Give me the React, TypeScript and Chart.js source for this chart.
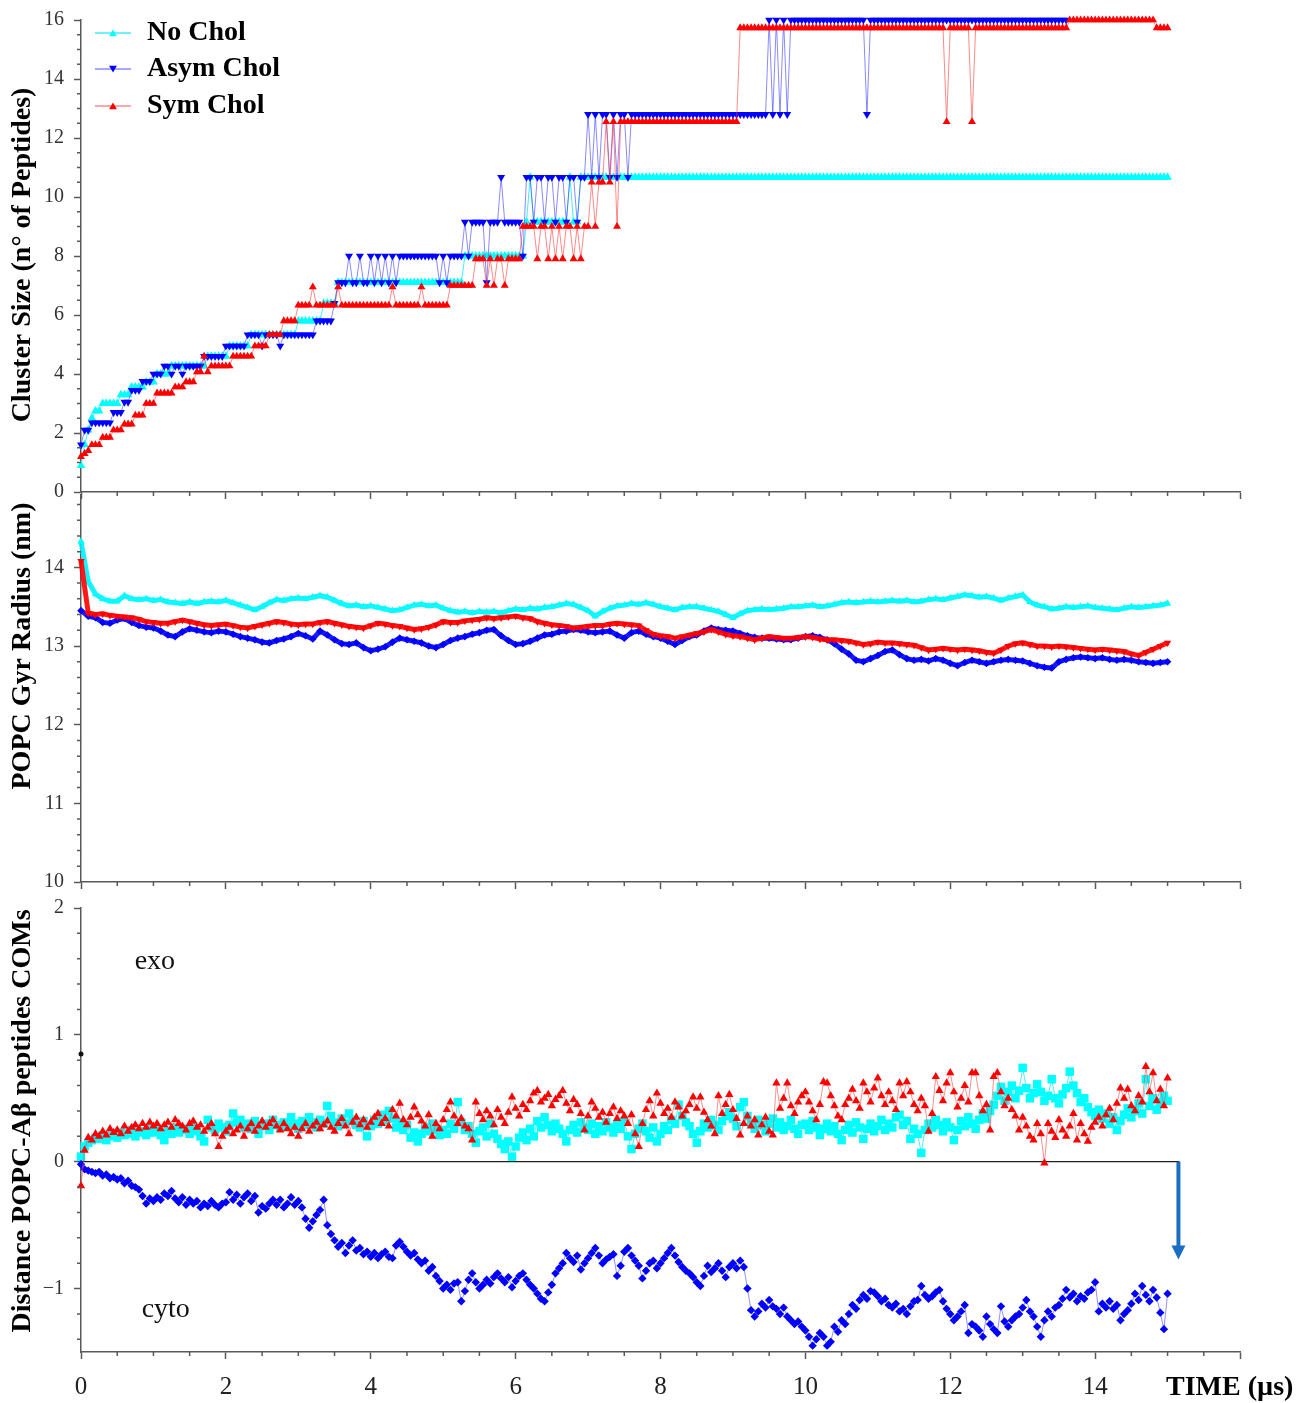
import React, { useEffect, useRef } from 'react';
import { Chart, registerables } from 'chart.js';

Chart.register(...registerables);

// ---------------- data ----------------
const SERIES_LABELS = ['No Chol', 'Asym Chol', 'Sym Chol'];
const X_TICK_LABELS = [0, 2, 4, 6, 8, 10, 12, 14];

// Panel 1: cluster size, sampled every 0.05 µs
const CLUSTER_DT = 0.05;
const CLUSTER_NOCHOL = [
  0.9,1.6,2.1,2.5,2.75,2.75,3,3,3,3,3,3.3,3.3,3.3,3.56,3.56,3.56,3.56,3.73,3.73,
  3.73,4,4,4,4,4.27,4.27,4.27,4.27,4.27,4.27,4.27,4.27,4.27,4.27,4.6,4.6,4.6,4.6,4.6,
  4.6,4.95,4.95,4.95,4.95,4.95,4.95,5.33,5.33,5.33,5.33,5.33,5.33,5.33,5.33,5.33,5.33,5.33,5.33,5.33,
  5.8,5.8,5.8,5.8,5.8,5.8,5.8,6.4,6.4,6.4,6.4,7.1,7.1,7.1,7.1,7.1,7.1,7.1,7.1,7.1,
  7.1,7.1,7.1,7.1,7.1,7.1,7.1,7.1,7.1,7.1,7.1,7.1,7.1,7.1,7.1,7.1,7.1,7.1,7.1,7.1,
  7.1,7.1,7.1,7.1,7.1,7.1,8,8,8,8,8,8,8,8,8,8,8,8,8,8,
  8,8,8,9.15,10.67,9.15,9.15,9.15,9.15,9.15,9.15,9.15,9.15,9.15,9.15,10.67,9.15,9.15,10.67,10.67,
  10.67,10.67,10.67,10.67,10.67,10.67,10.67,10.67,10.67,10.67,10.67,10.67,10.67,10.67,10.67,10.67,10.67,10.67,10.67,10.67,
  10.67,10.67,10.67,10.67,10.67,10.67,10.67,10.67,10.67,10.67,10.67,10.67,10.67,10.67,10.67,10.67,10.67,10.67,10.67,10.67,
  10.67,10.67,10.67,10.67,10.67,10.67,10.67,10.67,10.67,10.67,10.67,10.67,10.67,10.67,10.67,10.67,10.67,10.67,10.67,10.67,
  10.67,10.67,10.67,10.67,10.67,10.67,10.67,10.67,10.67,10.67,10.67,10.67,10.67,10.67,10.67,10.67,10.67,10.67,10.67,10.67,
  10.67,10.67,10.67,10.67,10.67,10.67,10.67,10.67,10.67,10.67,10.67,10.67,10.67,10.67,10.67,10.67,10.67,10.67,10.67,10.67,
  10.67,10.67,10.67,10.67,10.67,10.67,10.67,10.67,10.67,10.67,10.67,10.67,10.67,10.67,10.67,10.67,10.67,10.67,10.67,10.67,
  10.67,10.67,10.67,10.67,10.67,10.67,10.67,10.67,10.67,10.67,10.67,10.67,10.67,10.67,10.67,10.67,10.67,10.67,10.67,10.67,
  10.67,10.67,10.67,10.67,10.67,10.67,10.67,10.67,10.67,10.67,10.67,10.67,10.67,10.67,10.67,10.67,10.67,10.67,10.67,10.67,
  10.67,
];
const CLUSTER_ASYM = [
  1.6,2.1,2.1,2.35,2.35,2.35,2.35,2.35,2.35,2.7,2.7,2.7,3.05,3.05,3.45,3.45,3.45,3.75,3.75,3.75,
  4,4,4,4.27,4.27,4,4.27,4.27,4,4.27,4.27,4.27,4.27,4.27,4.6,4.6,4.6,4.6,4.6,4.6,
  4.95,4.95,4.95,4.95,4.95,4.95,5.33,5.33,5.33,5.33,4.95,5.33,5.33,5.33,5.33,4.95,5.33,5.33,5.33,5.33,
  5.33,5.33,5.33,5.33,5.33,5.8,5.8,5.8,5.8,5.8,6.4,7.1,7.1,7.1,8,7.1,7.1,8,7.1,7.1,
  8,7.1,8,7.1,8,7.1,8,7.1,8,8,8,8,8,8,8,8,8,8,8,7.1,
  8,7.1,8,8,8,8,9.15,8,9.15,9.15,9.15,9.15,7.1,9.15,9.15,9.15,10.67,9.15,9.15,9.15,
  9.15,9.15,8,10.67,10.67,9.15,10.67,10.67,9.15,10.67,10.67,9.15,10.67,10.67,9.15,10.67,10.67,9.15,10.67,10.67,
  12.8,10.67,12.8,10.67,12.8,12.8,10.67,12.8,10.67,12.8,12.8,10.67,12.8,12.8,12.8,12.8,12.8,12.8,12.8,12.8,
  12.8,12.8,12.8,12.8,12.8,12.8,12.8,12.8,12.8,12.8,12.8,12.8,12.8,12.8,12.8,12.8,12.8,12.8,12.8,12.8,
  12.8,12.8,12.8,12.8,12.8,12.8,12.8,12.8,12.8,12.8,16,12.8,16,12.8,16,12.8,16,16,16,16,
  16,16,16,16,16,16,16,16,16,16,16,16,16,16,16,16,16,12.8,16,16,
  16,16,16,16,16,16,16,16,16,16,16,16,16,16,16,16,16,16,16,16,
  16,16,16,16,16,16,16,16,16,16,16,16,16,16,16,16,16,16,16,16,
  16,16,16,16,16,16,16,16,16,16,16,16,16,
];
const CLUSTER_SYM = [
  1.2,1.3,1.4,1.6,1.6,1.6,1.85,1.85,1.85,2.1,2.1,2.1,2.3,2.3,2.3,2.6,2.6,2.6,3,3,
  3,3.35,3.35,3.35,3.35,3.35,3.56,3.56,3.56,3.73,3.73,3.73,4.07,4.07,4.6,4.07,4.27,4.27,4.27,4.27,
  4.27,4.27,4.6,4.6,4.6,4.6,4.6,4.6,4.95,4.95,4.95,4.95,5.33,5.33,5.33,5.33,5.8,5.8,5.8,5.8,
  6.33,6.33,6.33,6.33,6.95,6.33,6.33,6.33,6.33,6.33,6.33,6.95,6.33,6.33,6.33,6.33,6.33,6.33,6.33,6.33,
  6.33,6.33,6.33,6.33,6.33,6.33,6.95,6.33,6.33,6.33,6.33,6.33,6.33,6.33,6.95,6.33,6.33,6.33,6.33,6.33,
  6.33,6.33,7,7,7,7,7,7,7,7.9,7.9,7.9,7,7.9,7,7.9,7.9,7,7.9,7.9,
  7.9,7.9,9,9,9,9,7.9,9,9,7.9,9,7.9,9,7.9,9,9,7.9,9,7.9,9,
  9,10.5,9,10.5,10.5,12.55,10.5,12.55,9,12.55,12.55,12.55,12.55,12.55,12.55,12.55,12.55,12.55,12.55,12.55,
  12.55,12.55,12.55,12.55,12.55,12.55,12.55,12.55,12.55,12.55,12.55,12.55,12.55,12.55,12.55,12.55,12.55,12.55,12.55,12.55,
  12.55,12.55,15.73,15.73,15.73,15.73,15.73,15.73,15.73,15.73,15.73,15.73,15.73,15.73,15.73,15.73,15.73,15.73,15.73,15.73,
  15.73,15.73,15.73,15.73,15.73,15.73,15.73,15.73,15.73,15.73,15.73,15.73,15.73,15.73,15.73,15.73,15.73,15.73,15.73,15.73,
  15.73,15.73,15.73,15.73,15.73,15.73,15.73,15.73,15.73,15.73,15.73,15.73,15.73,15.73,15.73,15.73,15.73,15.73,15.73,12.55,
  15.73,15.73,15.73,15.73,15.73,15.73,12.55,15.73,15.73,15.73,15.73,15.73,15.73,15.73,15.73,15.73,15.73,15.73,15.73,15.73,
  15.73,15.73,15.73,15.73,15.73,15.73,15.73,15.73,15.73,15.73,15.73,15.73,15.73,16,16,16,16,16,16,16,
  16,16,16,16,16,16,16,16,16,16,16,16,16,16,16,16,16,15.73,15.73,15.73,
  15.73,
];

// Panel 2: POPC gyration radius (nm), sampled every 0.1 µs
const GYR_DT = 0.1;
const GYR_NOCHOL = [
  14.33,13.82,13.66,13.6,13.57,13.57,13.64,13.6,13.59,13.6,
  13.58,13.59,13.56,13.55,13.54,13.56,13.54,13.56,13.57,13.56,
  13.58,13.55,13.52,13.49,13.46,13.5,13.55,13.59,13.58,13.6,
  13.61,13.6,13.62,13.64,13.62,13.58,13.54,13.51,13.52,13.5,
  13.51,13.49,13.47,13.45,13.46,13.49,13.52,13.53,13.51,13.52,
  13.48,13.45,13.43,13.44,13.42,13.44,13.43,13.44,13.42,13.45,
  13.47,13.46,13.48,13.47,13.49,13.5,13.52,13.54,13.53,13.49,
  13.45,13.38,13.44,13.48,13.51,13.52,13.54,13.53,13.55,13.53,
  13.5,13.48,13.46,13.49,13.5,13.5,13.48,13.46,13.44,13.4,
  13.36,13.41,13.45,13.46,13.47,13.46,13.47,13.48,13.5,13.5,
  13.51,13.52,13.5,13.51,13.53,13.55,13.56,13.55,13.56,13.57,
  13.56,13.57,13.58,13.57,13.58,13.56,13.57,13.59,13.6,13.59,
  13.61,13.63,13.65,13.64,13.62,13.63,13.61,13.58,13.61,13.63,
  13.65,13.56,13.52,13.5,13.47,13.48,13.5,13.49,13.5,13.51,
  13.49,13.48,13.47,13.46,13.48,13.5,13.49,13.5,13.51,13.52,
  13.54,
];
const GYR_ASYM = [
  13.45,13.38,13.36,13.3,13.29,13.33,13.35,13.3,13.26,13.24,
  13.23,13.19,13.14,13.12,13.18,13.22,13.2,13.18,13.17,13.19,
  13.18,13.15,13.12,13.1,13.08,13.05,13.04,13.07,13.09,13.12,
  13.16,13.13,13.09,13.19,13.14,13.08,13.03,13.02,13.04,12.98,
  12.94,12.96,12.99,13.05,13.1,13.08,13.06,13.04,13,12.98,
  13.02,13.07,13.1,13.12,13.15,13.17,13.2,13.21,13.13,13.07,
  13.02,13.03,13.06,13.1,13.14,13.15,13.18,13.19,13.21,13.2,
  13.18,13.17,13.18,13.19,13.14,13.1,13.17,13.19,13.15,13.12,
  13.1,13.06,13.02,13.07,13.12,13.14,13.19,13.23,13.21,13.2,
  13.19,13.16,13.13,13.11,13.1,13.1,13.09,13.08,13.08,13.1,
  13.12,13.13,13.11,13.08,13.03,12.96,12.9,12.82,12.8,12.84,
  12.88,12.93,12.95,12.89,12.84,12.82,12.83,12.81,12.84,12.82,
  12.78,12.75,12.79,12.82,12.8,12.78,12.8,12.82,12.83,12.82,
  12.81,12.78,12.75,12.73,12.72,12.8,12.83,12.85,12.86,12.85,
  12.84,12.85,12.83,12.82,12.83,12.82,12.8,12.79,12.78,12.79,
  12.8,
];
const GYR_SYM = [
  14.08,13.42,13.4,13.41,13.39,13.38,13.37,13.36,13.34,13.31,
  13.3,13.29,13.29,13.31,13.33,13.31,13.29,13.27,13.26,13.27,
  13.28,13.26,13.24,13.23,13.25,13.27,13.29,13.31,13.3,13.28,
  13.27,13.28,13.28,13.3,13.31,13.29,13.27,13.25,13.24,13.23,
  13.26,13.29,13.28,13.26,13.25,13.23,13.21,13.22,13.24,13.27,
  13.31,13.3,13.3,13.32,13.33,13.34,13.36,13.35,13.36,13.37,
  13.38,13.36,13.35,13.31,13.29,13.27,13.26,13.25,13.23,13.24,
  13.25,13.26,13.26,13.28,13.29,13.28,13.27,13.26,13.2,13.15,
  13.13,13.12,13.1,13.12,13.14,13.16,13.18,13.21,13.18,13.15,
  13.13,13.12,13.1,13.08,13.1,13.12,13.11,13.1,13.1,13.11,
  13.12,13.11,13.09,13.08,13.08,13.07,13.06,13.04,13.02,13.03,
  13.05,13.04,13.04,13.03,13.02,13.01,12.98,12.95,12.96,12.97,
  12.96,12.95,12.96,12.95,12.94,12.92,12.91,12.95,13,13.03,
  13.04,13.02,13,13,12.99,13,12.99,12.98,12.97,12.96,
  12.95,12.96,12.95,12.94,12.93,12.9,12.88,12.92,12.96,13,
  13.04,
];

// Panel 3: distance POPC – Aβ peptide COMs, sampled every 0.05 µs
const DIST_DT = 0.05;
const DIST_NOCHOL = [
  0.04,0.12,0.15,0.17,0.19,0.18,0.21,0.17,0.2,0.22,0.19,0.23,0.21,0.22,0.25,0.2,0.23,0.24,0.21,0.26,
  0.23,0.25,0.21,0.17,0.24,0.22,0.27,0.23,0.26,0.25,0.22,0.28,0.24,0.2,0.16,0.33,0.27,0.25,0.3,0.27,
  0.24,0.29,0.38,0.31,0.33,0.27,0.3,0.26,0.32,0.22,0.28,0.3,0.25,0.33,0.29,0.27,0.31,0.28,0.35,0.3,
  0.26,0.32,0.29,0.35,0.31,0.27,0.33,0.3,0.44,0.36,0.31,0.28,0.34,0.3,0.38,0.33,0.29,0.27,0.32,0.2,
  0.28,0.33,0.3,0.37,0.32,0.4,0.34,0.27,0.31,0.25,0.29,0.19,0.23,0.16,0.22,0.27,0.24,0.3,0.25,0.21,
  0.25,0.22,0.3,0.26,0.47,0.31,0.25,0.28,0.22,0.15,0.24,0.27,0.2,0.3,0.22,0.18,0.14,0.1,0.16,0.04,
  0.12,0.19,0.23,0.17,0.26,0.2,0.32,0.27,0.35,0.29,0.24,0.3,0.26,0.22,0.16,0.25,0.29,0.23,0.31,0.27,
  0.25,0.3,0.22,0.28,0.24,0.31,0.27,0.23,0.29,0.26,0.32,0.2,0.1,0.22,0.26,0.3,0.24,0.19,0.27,0.16,
  0.22,0.28,0.25,0.33,0.3,0.45,0.36,0.31,0.28,0.22,0.15,0.24,0.3,0.27,0.33,0.29,0.25,0.32,0.36,0.39,
  0.34,0.28,0.43,0.47,0.36,0.3,0.26,0.33,0.29,0.24,0.3,0.34,0.27,0.31,0.25,0.28,0.33,0.26,0.22,0.29,
  0.3,0.25,0.32,0.27,0.21,0.26,0.3,0.24,0.28,0.22,0.17,0.25,0.29,0.23,0.31,0.27,0.18,0.26,0.3,0.24,
  0.28,0.33,0.25,0.3,0.27,0.35,0.37,0.29,0.32,0.18,0.26,0.22,0.07,0.25,0.3,0.27,0.33,0.29,0.24,0.31,
  0.27,0.17,0.25,0.32,0.28,0.35,0.3,0.26,0.33,0.38,0.34,0.4,0.45,0.52,0.59,0.48,0.55,0.6,0.5,0.56,
  0.74,0.58,0.5,0.54,0.61,0.55,0.48,0.52,0.65,0.5,0.46,0.53,0.58,0.71,0.6,0.54,0.47,0.5,0.43,0.39,
  0.36,0.41,0.34,0.38,0.3,0.35,0.25,0.32,0.37,0.42,0.35,0.4,0.46,0.38,0.65,0.44,0.5,0.41,0.47,0.52,
  0.48,
];
const DIST_ASYM = [
  -0.02,-0.06,-0.07,-0.08,-0.09,-0.08,-0.11,-0.1,-0.13,-0.12,-0.14,-0.13,-0.17,-0.15,-0.19,-0.2,-0.22,-0.27,-0.33,-0.29,
  -0.31,-0.28,-0.3,-0.25,-0.27,-0.23,-0.29,-0.32,-0.28,-0.34,-0.3,-0.33,-0.31,-0.36,-0.33,-0.35,-0.31,-0.34,-0.36,-0.33,
  -0.32,-0.24,-0.3,-0.26,-0.33,-0.28,-0.25,-0.31,-0.27,-0.4,-0.35,-0.37,-0.33,-0.3,-0.34,-0.3,-0.36,-0.33,-0.28,-0.34,
  -0.31,-0.36,-0.45,-0.52,-0.47,-0.42,-0.38,-0.3,-0.5,-0.57,-0.62,-0.67,-0.64,-0.72,-0.66,-0.62,-0.7,-0.68,-0.73,-0.71,
  -0.75,-0.72,-0.76,-0.73,-0.71,-0.75,-0.76,-0.66,-0.63,-0.67,-0.71,-0.74,-0.72,-0.77,-0.8,-0.78,-0.86,-0.83,-0.9,-0.94,
  -1,-0.97,-1.01,-0.96,-0.95,-1.1,-1.02,-0.93,-0.88,-0.95,-1,-0.97,-0.93,-0.96,-0.91,-0.88,-0.92,-0.95,-0.91,-0.99,
  -0.94,-0.9,-0.88,-0.93,-0.97,-1,-1.04,-1.08,-1.1,-1.03,-0.97,-0.88,-0.84,-0.8,-0.72,-0.76,-0.79,-0.74,-0.85,-0.8,
  -0.76,-0.72,-0.68,-0.74,-0.8,-0.77,-0.75,-0.73,-0.9,-0.82,-0.71,-0.68,-0.74,-0.78,-0.82,-0.92,-0.86,-0.8,-0.78,-0.84,
  -0.8,-0.76,-0.72,-0.68,-0.74,-0.79,-0.83,-0.86,-0.88,-0.91,-0.95,-0.98,-0.9,-0.82,-0.87,-0.84,-0.8,-0.86,-0.91,-0.83,
  -0.8,-0.84,-0.78,-0.83,-1,-1.17,-1.22,-1.18,-1.12,-1.15,-1.09,-1.14,-1.16,-1.2,-1.15,-1.22,-1.25,-1.28,-1.26,-1.3,
  -1.33,-1.38,-1.45,-1.4,-1.35,-1.38,-1.45,-1.42,-1.3,-1.34,-1.25,-1.28,-1.2,-1.13,-1.16,-1.09,-1.05,-1.08,-1.02,-1.03,
  -1.06,-1.1,-1.08,-1.13,-1.15,-1.12,-1.18,-1.16,-1.2,-1.14,-1.1,-1.09,-0.98,-1.05,-1.08,-1.06,-1.03,-1.01,-1.1,-1.16,
  -1.2,-1.25,-1.22,-1.18,-1.13,-1.35,-1.28,-1.3,-1.33,-1.38,-1.22,-1.28,-1.32,-1.35,-1.14,-1.26,-1.3,-1.25,-1.22,-1.2,
  -1.15,-1.09,-1.18,-1.22,-1.3,-1.38,-1.25,-1.18,-1.22,-1.15,-1.13,-1.08,-1.01,-1.07,-1.04,-1.1,-1.06,-1.08,-1.03,-1.01,
  -0.95,-1.18,-1.12,-1.15,-1.1,-1.16,-1.13,-1.25,-1.2,-1.17,-1.12,-1.04,-1.09,-0.98,-1.05,-1.1,-1.01,-1.07,-1.19,-1.32,
  -1.04,
];
const DIST_SYM = [
  -0.19,0.09,0.19,0.17,0.22,0.2,0.24,0.21,0.26,0.23,0.25,0.22,0.28,0.24,0.27,0.29,0.26,0.3,0.27,0.31,
  0.28,0.3,0.26,0.29,0.31,0.27,0.33,0.3,0.28,0.25,0.3,0.32,0.27,0.29,0.24,0.27,0.3,0.22,0.12,0.2,
  0.24,0.27,0.22,0.25,0.28,0.2,0.26,0.3,0.24,0.28,0.32,0.27,0.3,0.33,0.28,0.25,0.3,0.26,0.22,0.27,
  0.2,0.26,0.3,0.24,0.28,0.31,0.26,0.29,0.32,0.27,0.24,0.3,0.34,0.28,0.22,0.31,0.35,0.29,0.33,0.27,
  0.31,0.35,0.38,0.3,0.34,0.28,0.41,0.36,0.46,0.33,0.29,0.35,0.43,0.37,0.32,0.28,0.37,0.2,0.3,0.26,
  0.33,0.41,0.47,0.36,0.3,0.34,0.28,0.26,0.17,0.47,0.38,0.33,0.4,0.36,0.29,0.41,0.35,0.3,0.39,0.51,
  0.42,0.36,0.45,0.41,0.48,0.54,0.56,0.47,0.5,0.53,0.44,0.49,0.52,0.56,0.46,0.4,0.49,0.45,0.38,0.25,
  0.36,0.47,0.42,0.35,0.39,0.31,0.38,0.43,0.34,0.4,0.36,0.3,0.37,0.22,0.12,0.3,0.41,0.48,0.36,0.54,
  0.46,0.38,0.42,0.35,0.47,0.43,0.36,0.4,0.45,0.51,0.42,0.51,0.39,0.33,0.28,0.22,0.52,0.38,0.45,0.53,
  0.41,0.34,0.21,0.3,0.36,0.28,0.33,0.21,0.29,0.35,0.24,0.21,0.62,0.42,0.5,0.62,0.44,0.38,0.47,0.52,
  0.55,0.47,0.4,0.33,0.45,0.63,0.62,0.52,0.44,0.36,0.33,0.45,0.5,0.57,0.48,0.42,0.62,0.55,0.47,0.58,
  0.66,0.52,0.45,0.55,0.48,0.41,0.62,0.52,0.63,0.55,0.45,0.4,0.5,0.44,0.24,0.38,0.67,0.56,0.48,0.62,
  0.7,0.55,0.43,0.5,0.6,0.47,0.7,0.7,0.52,0.4,0.45,0.25,0.67,0.7,0.55,0.44,0.5,0.41,0.36,0.25,
  0.35,0.28,0.2,0.17,0.3,0.22,-0.01,0.3,0.24,0.19,0.33,0.25,0.2,0.28,0.38,0.17,0.3,0.22,0.16,0.27,
  0.31,0.35,0.28,0.37,0.42,0.33,0.46,0.58,0.5,0.57,0.44,0.4,0.52,0.47,0.75,0.55,0.7,0.48,0.57,0.44,
  0.66,
];
const DIST_START_DOT = [{ x: 0, y: 0.85 }];

// annotation anchors (data units)
const ZERO_LINE_END_X = 15.15;
const ARROW_END_Y = -0.77;
const EXO_LABEL = { text: 'exo', x: 1.02, y: 1.58 };
const CYTO_LABEL = { text: 'cyto', x: 1.17, y: -1.17 };

// ---------------- styling ----------------
const SERIF = '"Liberation Serif", "Times New Roman", Times, serif';
const AXIS = '#595959';
const CYAN = '#00FFFF';
const BLUE = '#0000FF';
const RED = '#FF0000';
const PAGE_W = 1301;
const PLOT_LEFT = 81;
const PLOT_RIGHT = 1240;
const PAD_TOP = 30; // >= y-tick label overflow so that layout padding decides

const toXY = (vals: number[], dt: number) =>
  vals.map((v, i) => ({ x: Math.round(i * dt * 1000) / 1000, y: v }));

function xScale(showLabels: boolean, height: number) {
  return {
    type: 'linear',
    min: 0,
    max: 16,
    afterFit: (s: any) => { s.height = height; },
    grid: { drawOnChartArea: false, drawTicks: true, tickLength: 7, color: AXIS, tickWidth: 1.5 },
    border: { display: true, color: AXIS, width: 1.5 },
    ticks: {
      display: showLabels,
      stepSize: 2,
      autoSkip: false,
      maxRotation: 0,
      padding: 13,
      color: '#222',
      font: { family: SERIF, size: 25 },
      callback: (v: number) => (X_TICK_LABELS.includes(v) ? String(v) : ''),
    },
  };
}

function yScale(min: number, max: number, step: number) {
  return {
    type: 'linear',
    min,
    max,
    afterFit: (s: any) => { s.width = PLOT_LEFT; },
    grid: { drawOnChartArea: false, drawTicks: true, tickLength: 7, color: AXIS, tickWidth: 1.5 },
    border: { display: true, color: AXIS, width: 1.5 },
    ticks: {
      stepSize: step,
      includeBounds: false,
      padding: 10,
      color: '#333',
      font: { family: SERIF, size: 20 },
      callback: (v: number) => (v < 0 ? '\u2212' + Math.abs(v) : String(v)),
    },
  };
}

const minorTicksPlugin = {
  id: 'minorTicks',
  afterDraw(chart: any, _a: any, opts: any) {
    const { ctx, chartArea } = chart;
    const each = (scale: any, step: number, major: number, fn: (p: number) => void) => {
      const k0 = Math.ceil(scale.min / step - 1e-6);
      const k1 = Math.floor(scale.max / step + 1e-6);
      for (let k = k0; k <= k1; k++) {
        const v = k * step;
        const r = v / major;
        if (Math.abs(r - Math.round(r)) < 1e-6) continue;
        fn(scale.getPixelForValue(v));
      }
    };
    ctx.save();
    ctx.strokeStyle = AXIS;
    ctx.lineWidth = 1.5;
    ctx.beginPath();
    each(chart.scales.x, opts.xStep, opts.xMajor, (px) => {
      ctx.moveTo(px, chartArea.bottom);
      ctx.lineTo(px, chartArea.bottom + 4);
    });
    each(chart.scales.y, opts.yStep, opts.yMajor, (py) => {
      ctx.moveTo(chartArea.left - 4, py);
      ctx.lineTo(chartArea.left, py);
    });
    ctx.stroke();
    ctx.restore();
  },
};

const yTitlePlugin = {
  id: 'yTitle',
  afterDraw(chart: any, _a: any, opts: any) {
    const { ctx } = chart;
    ctx.save();
    ctx.translate(opts.x, opts.y);
    ctx.rotate(-Math.PI / 2);
    ctx.font = `bold 28px ${SERIF}`;
    ctx.fillStyle = '#000';
    ctx.textAlign = 'center';
    ctx.textBaseline = 'middle';
    ctx.fillText(opts.text, 0, 0);
    ctx.restore();
  },
};

function drawTriangle(ctx: any, x: number, y: number, r: number, down: boolean) {
  const s = down ? -1 : 1;
  ctx.beginPath();
  ctx.moveTo(x, y - s * r);
  ctx.lineTo(x - r * 0.866, y + s * r * 0.5);
  ctx.lineTo(x + r * 0.866, y + s * r * 0.5);
  ctx.closePath();
  ctx.fill();
}

const legendPlugin = {
  id: 'insideLegend',
  afterDraw(chart: any, _a: any, opts: any) {
    const { ctx } = chart;
    ctx.save();
    chart.data.datasets.slice(0, 3).forEach((ds: any, i: number) => {
      const y = opts.rows[i];
      ctx.strokeStyle = ds.borderColor;
      ctx.lineWidth = 1.5;
      ctx.beginPath();
      ctx.moveTo(95, y);
      ctx.lineTo(131, y);
      ctx.stroke();
      ctx.fillStyle = ds.pointBackgroundColor;
      drawTriangle(ctx, 113, y + (ds.pointRotation ? -1 : 1), 4.5, !!ds.pointRotation);
      ctx.fillStyle = '#000';
      ctx.font = `bold 28px ${SERIF}`;
      ctx.textAlign = 'left';
      ctx.textBaseline = 'middle';
      ctx.fillText(ds.label, 147, y);
    });
    ctx.restore();
  },
};

const distDecorPlugin = {
  id: 'distDecor',
  beforeDatasetsDraw(chart: any) {
    const { ctx } = chart;
    const xs = chart.scales.x;
    const ys = chart.scales.y;
    const y0 = ys.getPixelForValue(0);
    ctx.save();
    ctx.strokeStyle = '#222';
    ctx.lineWidth = 1.3;
    ctx.beginPath();
    ctx.moveTo(xs.getPixelForValue(0), y0);
    ctx.lineTo(xs.getPixelForValue(ZERO_LINE_END_X) + 1, y0);
    ctx.stroke();
    ctx.restore();
  },
  afterDraw(chart: any) {
    const { ctx } = chart;
    const xs = chart.scales.x;
    const ys = chart.scales.y;
    const ax = xs.getPixelForValue(ZERO_LINE_END_X);
    const y0 = ys.getPixelForValue(0);
    const y1 = ys.getPixelForValue(ARROW_END_Y);
    ctx.save();
    ctx.strokeStyle = '#1b6fc2';
    ctx.fillStyle = '#1b6fc2';
    ctx.lineWidth = 4;
    ctx.beginPath();
    ctx.moveTo(ax, y0);
    ctx.lineTo(ax, y1 - 12);
    ctx.stroke();
    ctx.beginPath();
    ctx.moveTo(ax - 7, y1 - 14);
    ctx.lineTo(ax + 7, y1 - 14);
    ctx.lineTo(ax, y1);
    ctx.closePath();
    ctx.fill();

    ctx.fillStyle = '#111';
    ctx.font = `28px ${SERIF}`;
    ctx.textAlign = 'center';
    ctx.textBaseline = 'middle';
    [EXO_LABEL, CYTO_LABEL].forEach((l) => {
      ctx.fillText(l.text, xs.getPixelForValue(l.x), ys.getPixelForValue(l.y));
    });

    ctx.fillStyle = '#000';
    ctx.font = `bold 28px ${SERIF}`;
    ctx.textAlign = 'left';
    ctx.fillText('TIME (\u00B5s)', 1166, chart.height - 15);
    ctx.restore();
  },
};

function lineDs(label: string, vals: number[], dt: number, color: string, lineColor: string, extra: any) {
  return {
    label,
    data: toXY(vals, dt),
    borderColor: lineColor,
    backgroundColor: color,
    borderWidth: 1,
    pointBackgroundColor: color,
    pointBorderColor: color,
    pointBorderWidth: 0,
    pointStyle: 'triangle',
    pointRadius: 4,
    pointRotation: 0,
    tension: 0,
    clip: false,
    ...extra,
  };
}

function baseOptions(xs: any, ys: any, plugins: any) {
  return {
    responsive: false,
    maintainAspectRatio: false,
    animation: false,
    devicePixelRatio: 1,
    events: [],
    layout: { padding: { top: PAD_TOP, left: 0, right: PAGE_W - PLOT_RIGHT, bottom: 0 } },
    scales: { x: xs, y: ys },
    plugins: { legend: { display: false }, tooltip: { enabled: false }, ...plugins },
  };
}

// canvas placement: chart areas at page y 20–492, 495–882, 908–1352
const C1_TOP = 20 - PAD_TOP;
const C1_H = 492 - C1_TOP + 24;
const C2_TOP = 495 - PAD_TOP;
const C2_H = 882 - C2_TOP + 24;
const C3_TOP = 908 - PAD_TOP;
const C3_H = 1403 - C3_TOP;

function clusterConfig(): any {
  return {
    type: 'line',
    data: {
      datasets: [
        lineDs(SERIES_LABELS[0], CLUSTER_NOCHOL, CLUSTER_DT, CYAN, 'rgba(0,230,255,0.75)', { order: 3, pointRadius: 5 }),
        lineDs(SERIES_LABELS[1], CLUSTER_ASYM, CLUSTER_DT, BLUE, 'rgba(60,60,255,0.6)', { order: 2, pointRadius: 4.6, pointRotation: 180 }),
        lineDs(SERIES_LABELS[2], CLUSTER_SYM, CLUSTER_DT, RED, 'rgba(255,60,60,0.6)', { order: 1, pointRadius: 4.6 }),
      ],
    },
    options: baseOptions(xScale(false, 24), yScale(0, 16, 2), {
      minorTicks: { xStep: 0.5, xMajor: 2, yStep: 0.5, yMajor: 2 },
      yTitle: { text: 'Cluster Size (n\u00B0 of Peptides)', x: 23, y: 255 - C1_TOP },
      insideLegend: { rows: [33 - C1_TOP, 69 - C1_TOP, 106 - C1_TOP] },
    }),
    plugins: [minorTicksPlugin, yTitlePlugin, legendPlugin],
  };
}

function gyrConfig(): any {
  return {
    type: 'line',
    data: {
      datasets: [
        lineDs(SERIES_LABELS[0], GYR_NOCHOL, GYR_DT, CYAN, 'rgba(0,240,255,0.9)', { order: 3, borderWidth: 5, pointRadius: 4.2 }),
        lineDs(SERIES_LABELS[1], GYR_ASYM, GYR_DT, BLUE, 'rgba(0,0,255,0.9)', { order: 2, borderWidth: 5, pointRadius: 3.8, pointStyle: 'rectRot' }),
        lineDs(SERIES_LABELS[2], GYR_SYM, GYR_DT, RED, 'rgba(255,0,0,0.9)', { order: 1, borderWidth: 5, pointRadius: 4.2, pointRotation: 180 }),
      ],
    },
    options: baseOptions(xScale(false, 24), yScale(10, 14.92, 1), {
      minorTicks: { xStep: 0.5, xMajor: 2, yStep: 0.2, yMajor: 1 },
      yTitle: { text: 'POPC Gyr Radius (nm)', x: 23, y: 646 - C2_TOP },
    }),
    plugins: [minorTicksPlugin, yTitlePlugin],
  };
}

function distConfig(): any {
  return {
    type: 'line',
    data: {
      datasets: [
        lineDs(SERIES_LABELS[0], DIST_NOCHOL, DIST_DT, CYAN, 'rgba(0,230,255,0.7)', { order: 3, pointStyle: 'rect', pointRadius: 6 }),
        lineDs(SERIES_LABELS[1], DIST_ASYM, DIST_DT, BLUE, 'rgba(70,70,255,0.6)', { order: 2, pointStyle: 'rectRot', pointRadius: 4.2 }),
        lineDs(SERIES_LABELS[2], DIST_SYM, DIST_DT, RED, 'rgba(255,70,70,0.6)', { order: 1, pointRadius: 4.8 }),
        {
          label: 'start',
          data: DIST_START_DOT,
          showLine: false,
          pointRadius: 2.5,
          pointBackgroundColor: '#111',
          pointBorderWidth: 0,
          clip: false,
          order: 0,
        },
      ],
    },
    options: baseOptions(xScale(true, 51), yScale(-1.5, 2, 1), {
      minorTicks: { xStep: 0.5, xMajor: 2, yStep: 0.2, yMajor: 1 },
      yTitle: { text: 'Distance POPC-A\u03B2 peptides COMs', x: 23, y: 1121 - C3_TOP },
    }),
    plugins: [minorTicksPlugin, yTitlePlugin, distDecorPlugin],
  };
}

export default function App() {
  const c1 = useRef<HTMLCanvasElement>(null);
  const c2 = useRef<HTMLCanvasElement>(null);
  const c3 = useRef<HTMLCanvasElement>(null);

  useEffect(() => {
    const charts = [
      new Chart(c1.current as HTMLCanvasElement, clusterConfig()),
      new Chart(c2.current as HTMLCanvasElement, gyrConfig()),
      new Chart(c3.current as HTMLCanvasElement, distConfig()),
    ];
    return () => charts.forEach((c) => c.destroy());
  }, []);

  const abs = (top: number): React.CSSProperties => ({ position: 'absolute', left: 0, top });

  return (
    <div style={{ position: 'absolute', left: 0, top: 0, width: PAGE_W, height: 1403, background: '#fff', overflow: 'hidden' }}>
      <canvas ref={c1} width={PAGE_W} height={C1_H} style={abs(C1_TOP)} />
      <canvas ref={c2} width={PAGE_W} height={C2_H} style={abs(C2_TOP)} />
      <canvas ref={c3} width={PAGE_W} height={C3_H} style={abs(C3_TOP)} />
    </div>
  );
}
